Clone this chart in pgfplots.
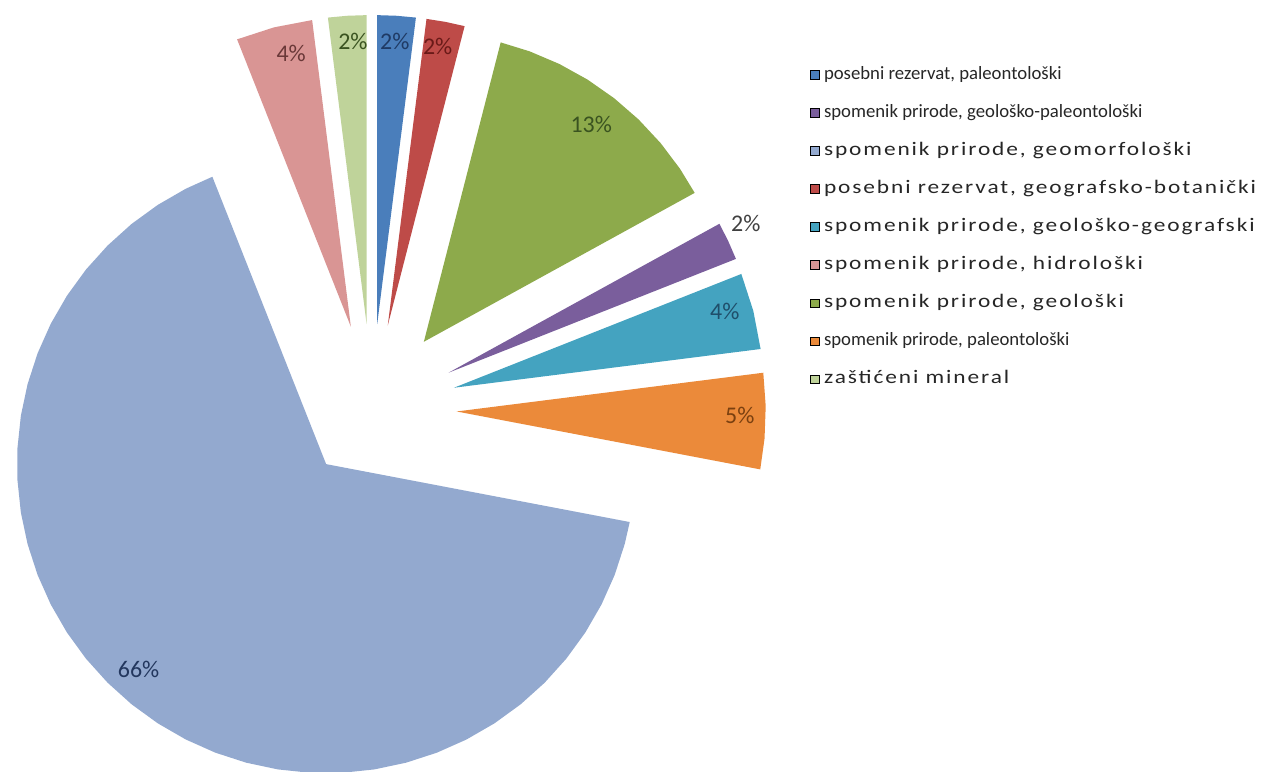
\documentclass[border=0pt]{standalone}
\usepackage{fontspec}
\setmainfont{Carlito}
\newfontfamily\widefont[FakeStretch=1.22, LetterSpace=10]{Carlito}
\usepackage{pgfplots}
\pgfplotsset{compat=1.18}

% slice colours
\definecolor{cBlue}{HTML}{4A7EBB}
\definecolor{cRed}{HTML}{BE4B48}
\definecolor{cGreen}{HTML}{8DAA4B}
\definecolor{cPurple}{HTML}{7A5E9C}
\definecolor{cTeal}{HTML}{44A3C0}
\definecolor{cOrange}{HTML}{EB8A3A}
\definecolor{cBig}{HTML}{93A9CF}
\definecolor{cPink}{HTML}{D99594}
\definecolor{cLGreen}{HTML}{BFD39A}

\newcommand{\legsmall}{\fontsize{9.4}{11}\selectfont}
\newcommand{\legwide}{\widefont\fontsize{9.6}{11}\selectfont}

\begin{document}
\begin{tikzpicture}
% shares (%): 2, 2, 13, 2, 4, 5, 66, 4, 2 -> wedges clockwise from 90 deg, 3.6 deg per %
\begin{axis}[
    x=0.5pt, y=0.5pt,
    xmin=-373, xmax=893, ymin=-364, ymax=410,
    hide axis, scale only axis,
    slice/.style={data cs=polar, draw=none, forget plot},
    legend image code/.code={\fill[#1] (0pt,-2.2pt) rectangle (4.4pt,2.2pt);},
    legend cell align=left,
    legend style={draw=none, fill=none, at={(axis description cs:0.637,0.921)},
        anchor=north west, row sep=9.6pt, column sep=0pt,
        nodes={anchor=west, text height=7pt, text depth=2.5pt, inner xsep=2pt, inner ysep=0pt,
        text=black!85}},
]
% invisible frame so that the page is the whole axis area
\addplot[draw=none, forget plot] coordinates {(-373,-364) (893,410)};
% wedges, each pushed out from the centre
\addplot[slice, fill=cBlue, xshift=2.65pt, yshift=42.4pt]
    coordinates {(0,0) (82.8,310) (86.4,310) (90,310)};
\addplot[slice, fill=cRed, xshift=7.95pt, yshift=41.75pt]
    coordinates {(0,0) (75.6,310) (79.2,310) (82.8,310)};
\addplot[slice, fill=cGreen, xshift=26.05pt, yshift=33.6pt]
    coordinates {(0,0) (28.8,310) (34,310) (40,310) (46,310) (52,310) (58,310)
    (64,310) (70,310) (75.6,310)};
\addplot[slice, fill=cPurple, xshift=38.45pt, yshift=18.1pt]
    coordinates {(0,0) (21.6,310) (25.2,310) (28.8,310)};
\addplot[slice, fill=cTeal, xshift=41.15pt, yshift=10.55pt]
    coordinates {(0,0) (7.2,310) (14.4,310) (21.6,310)};
\addplot[slice, fill=cOrange, xshift=42.5pt, yshift=-1.35pt]
    coordinates {(0,0) (-10.8,310) (-5,310) (1,310) (7.2,310)};
\addplot[slice, fill=cBig, xshift=-22.95pt, yshift=-27.75pt]
    coordinates {(0,0) (111.6,310) (117,310) (123,310) (129,310) (135,310) (141,310)
    (147,310) (153,310) (159,310) (165,310) (171,310) (177,310) (183,310) (189,310)
    (195,310) (201,310) (207,310) (213,310) (219,310) (225,310) (231,310) (237,310)
    (243,310) (249,310) (255,310) (261,310) (267,310) (273,310) (279,310) (285,310)
    (291,310) (297,310) (303,310) (309,310) (315,310) (321,310) (327,310) (333,310)
    (339,310) (345,310) (349.2,310)};
\addplot[slice, fill=cPink, xshift=-10.55pt, yshift=41.15pt]
    coordinates {(0,0) (97.2,310) (104.4,310) (111.6,310)};
\addplot[slice, fill=cLGreen, xshift=-2.65pt, yshift=42.4pt]
    coordinates {(0,0) (90,310) (93.6,310) (97.2,310)};

% legend, in the order of the original
\addlegendimage{fill=cBlue}
\addlegendentry{\legsmall posebni rezervat, paleontološki}
\addlegendimage{fill=cPurple}
\addlegendentry{\legsmall spomenik prirode, geološko-paleontološki}
\addlegendimage{fill=cBig}
\addlegendentry{\legwide spomenik prirode, geomorfološki}
\addlegendimage{fill=cRed}
\addlegendentry{\legwide posebni rezervat, geografsko-botanički}
\addlegendimage{fill=cTeal}
\addlegendentry{\legwide spomenik prirode, geološko-geografski}
\addlegendimage{fill=cPink}
\addlegendentry{\legwide spomenik prirode, hidrološki}
\addlegendimage{fill=cGreen}
\addlegendentry{\legwide spomenik prirode, geološki}
\addlegendimage{fill=cOrange}
\addlegendentry{\legsmall spomenik prirode, paleontološki}
\addlegendimage{fill=cLGreen}
\addlegendentry{\legwide zaštićeni mineral}

% percentage labels
\begin{scope}[every node/.style={font=\fontsize{12}{14}\selectfont}]
\node at (axis cs:-234,-261) {\textcolor[HTML]{23375E}{66\%}};
\node at (axis cs:220,285) {\textcolor[HTML]{3A5320}{13\%}};
\node at (axis cs:369,-7) {\textcolor[HTML]{7A4010}{5\%}};
\node at (axis cs:354,98) {\textcolor[HTML]{1F4E6A}{4\%}};
\node at (axis cs:375,186) {\textcolor[HTML]{404040}{2\%}};
\node at (axis cs:23,368) {\textcolor[HTML]{1F3A64}{2\%}};
\node at (axis cs:66,363) {\textcolor[HTML]{6A1A18}{2\%}};
\node at (axis cs:-81,356) {\textcolor[HTML]{6A3838}{4\%}};
\node at (axis cs:-19,368) {\textcolor[HTML]{3A5320}{2\%}};
\end{scope}
\end{axis}
\end{tikzpicture}
\end{document}
